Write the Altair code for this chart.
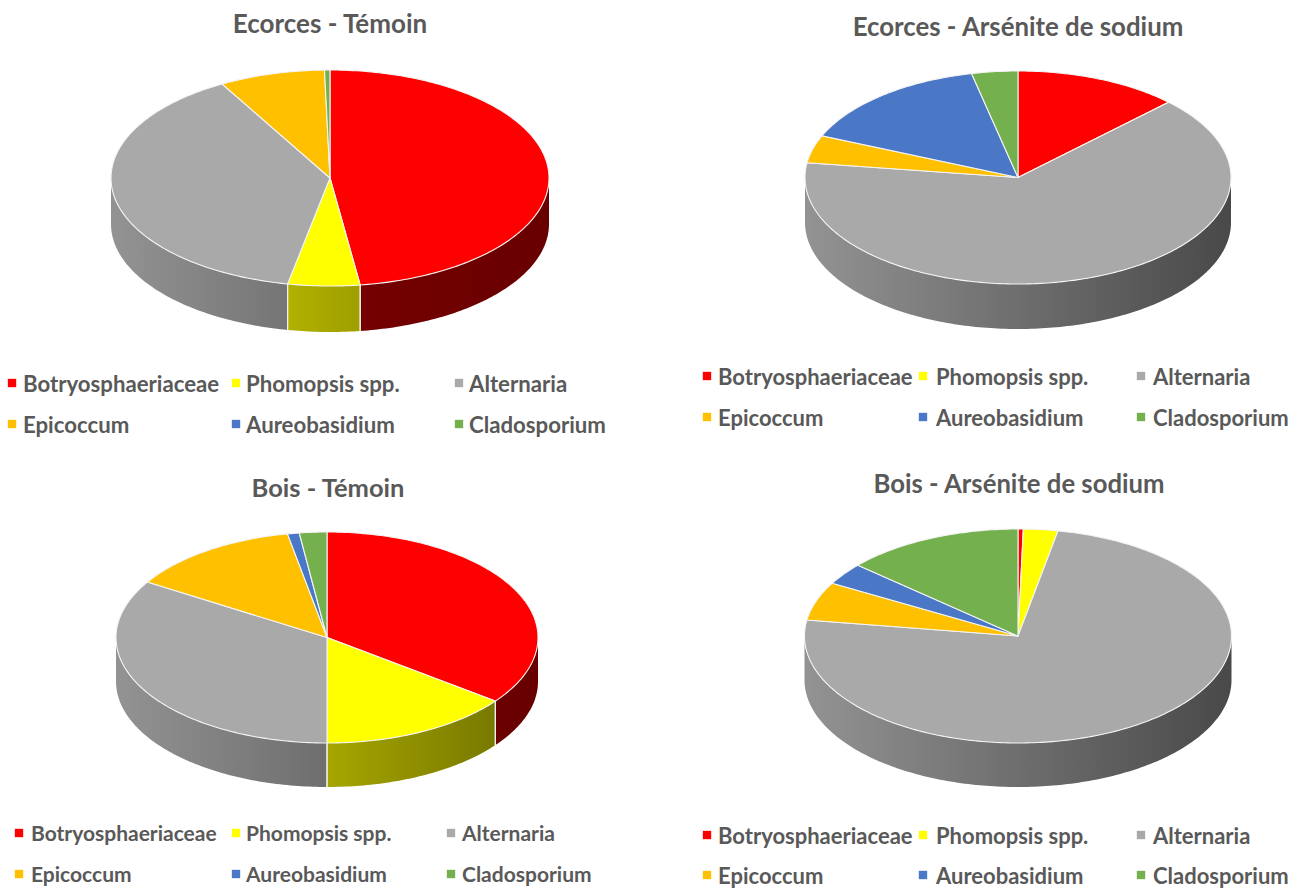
import math
import altair as alt
import pandas as pd

# Share of each fungal group (%) per tissue and treatment
categories = ["Botryosphaeriaceae", "Phomopsis spp.", "Alternaria",
              "Epicoccum", "Aureobasidium", "Cladosporium"]
colors = ["#FF0000", "#FFFF00", "#A9A9A9", "#FFC000", "#4A78C6", "#75B04F"]

ecorces_temoin = [47.8, 5.3, 38.7, 7.8, 0.0, 0.4]
ecorces_arsenite = [12.5, 0.0, 64.7, 4.2, 15.1, 3.5]
bois_temoin = [35.3, 14.7, 33.8, 13.2, 0.9, 2.1]
bois_arsenite = [0.4, 2.6, 74.4, 5.8, 3.3, 13.5]

titles = ["Ecorces - Témoin", "Ecorces - Arsénite de sodium",
          "Bois - Témoin", "Bois - Arsénite de sodium"]
series = [ecorces_temoin, ecorces_arsenite, bois_temoin, bois_arsenite]

# Pie geometry of each panel: centre, radii of the tilted disc, wall depth
pies = [
    dict(cx=330, cy=178, rx=219, ry=108, depth=46, title=(330, 23), title_size=26, legend_size=22.2,
         legend_x=[(12, 23), (236, 246), (459, 469)], legend_y=(383, 424)),
    dict(cx=1018, cy=177.5, rx=213, ry=106.5, depth=45, title=(1018, 26), title_size=25.8, legend_size=22,
         legend_x=[(707, 718), (923, 936), (1141, 1153)], legend_y=(376, 417)),
    dict(cx=327, cy=637.5, rx=211, ry=105.5, depth=44, title=(328, 487), title_size=25.5, legend_size=21,
         legend_x=[(19, 31), (236, 246), (451, 462)], legend_y=(833, 874)),
    dict(cx=1018, cy=636, rx=213.5, ry=107, depth=44, title=(1019, 483), title_size=25.7, legend_size=22,
         legend_x=[(707, 718), (923, 936), (1141, 1153)], legend_y=(835, 875)),
]


def rim(p, deg, drop=0.0):
    t = math.radians(deg)
    return [p["cx"] + p["rx"] * math.sin(t), p["cy"] - p["ry"] * math.cos(t) + drop]


def shade(hex_color, factor):
    rgb = [int(hex_color[i:i + 2], 16) for i in (1, 3, 5)]
    if hex_color == "#FF0000":
        # Pure red reads far lighter than the other walls at equal brightness
        factor = 0.3 + 0.25 * factor
    return "#" + "".join(f"{round(c * factor):02x}" for c in rgb)


def feature(kind, coords, fill):
    return {"type": "Feature", "properties": {"fill": fill},
            "geometry": {"type": kind, "coordinates": coords}}


def brightness(p, x):
    return 0.87 - 0.44 * (x - (p["cx"] - p["rx"])) / (2 * p["rx"])


projection = alt.Projection(type="identity", scale=1, translate=[0, 0])
wall_layers, tops, seams = [], [], []
for p, values in zip(pies, series):
    total = sum(values)
    start = 0.0
    for value, color in zip(values, colors):
        if value == 0:
            continue
        end = start + value / total * 360
        # Top face of the slice
        n = max(2, int(end - start) + 1)
        arc = [rim(p, start + (end - start) * i / n) for i in range(n + 1)]
        ring = [[p["cx"], p["cy"]]] + arc + [[p["cx"], p["cy"]]]
        tops.append(feature("Polygon", [ring], color))
        # Visible outer wall: one shape with a left-to-right gradient
        a, b = max(start, 90.0), min(end, 270.0)
        if b > a:
            steps = max(2, int(b - a) + 1)
            degs = [a + (b - a) * i / steps for i in range(steps + 1)]
            upper = [rim(p, d) for d in degs]
            lower = [rim(p, d, p["depth"]) for d in reversed(degs)]
            xs = [pt[0] for pt in upper]
            gradient = alt.LinearGradient(
                gradient="linear", x1=0, x2=1, y1=0, y2=0,
                stops=[
                    alt.GradientStop(offset=0, color=shade(color, brightness(p, min(xs)))),
                    alt.GradientStop(offset=1, color=shade(color, brightness(p, max(xs)))),
                ])
            wall = feature("Polygon", [upper + lower + [upper[0]]], color)
            wall_layers.append(
                alt.Chart(alt.Data(values=[wall])).mark_geoshape(fill=gradient, stroke=None))
        for d in (start, end):
            if 90 < d < 270:
                seams.append(feature("LineString", [rim(p, d), rim(p, d, p["depth"])], "#ffffff"))
        start = end

title_rows = [dict(lon=p["title"][0], lat=p["title"][1], label=t, size=p["title_size"])
              for p, t in zip(pies, titles)]
legend_rows = []
for p in pies:
    for i, (name, color) in enumerate(zip(categories, colors)):
        mark_x, text_x = p["legend_x"][i % 3]
        y = p["legend_y"][i // 3]
        legend_rows.append(dict(mx=mark_x, tx=text_x, y=y, label=name, color=color,
                                size=p["legend_size"]))
legend_df = pd.DataFrame(legend_rows)

top_layer = alt.Chart(alt.Data(values=tops)).mark_geoshape(
    stroke="#f4f4f4", strokeWidth=1.1).encode(fill=alt.Fill("properties.fill:N", scale=None))
seam_layer = alt.Chart(alt.Data(values=seams)).mark_geoshape(
    filled=False, stroke="#f4f4e8", strokeWidth=1.1)

title_layer = alt.Chart(pd.DataFrame(title_rows)).mark_text(
    font="Lato", fontWeight="bold", color="#595959",
    align="center", baseline="middle", dy=2).encode(
    longitude="lon:Q", latitude="lat:Q", text="label:N",
    size=alt.Size("size:Q", scale=None))
legend_marks = alt.Chart(legend_df).mark_point(
    shape="square", filled=True, size=70, opacity=1).encode(
    longitude="mx:Q", latitude="y:Q",
    color=alt.Color("color:N", scale=None))
legend_text = alt.Chart(legend_df).mark_text(
    font="Lato", fontWeight="bold", color="#595959",
    align="left", baseline="middle", dy=1.5).encode(
    longitude="tx:Q", latitude="y:Q", text="label:N",
    size=alt.Size("size:Q", scale=None))

chart = alt.layer(
    *wall_layers, top_layer, seam_layer, title_layer, legend_marks, legend_text,
    projection=projection,
).properties(
    width=1298, height=889, padding=0, autosize=alt.AutoSizeParams(type="none"),
).configure_view(stroke=None)

chart.save("out.html", embed_options={"renderer": "svg", "actions": False})
